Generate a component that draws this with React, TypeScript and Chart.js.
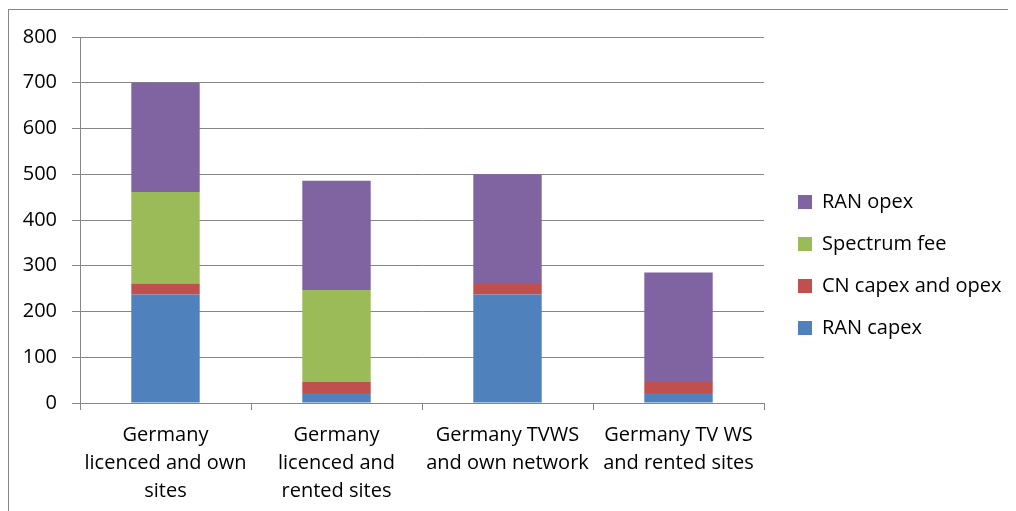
import React, { useEffect, useRef } from "react";
import { Chart, registerables } from "chart.js";

Chart.register(...registerables);

const categories: string[][] = [
  ["Germany", "licenced and own", "sites"],
  ["Germany", "licenced and", "rented sites"],
  ["Germany TVWS", "and own network"],
  ["Germany TV WS", "and rented sites"],
];
const ranCapex = [237, 22, 237, 22];
const cnCapexOpex = [24, 24, 23, 24];
const spectrumFee = [200, 201, 0, 0];
const ranOpex = [239, 239, 240, 239];
const yMin = 0;
const yMax = 800;
const yStep = 100;

const GRID = "#868686";
const FONT = "'Open Sans'";
const FS = 20;

export default function App() {
  const ref = useRef<HTMLCanvasElement | null>(null);

  useEffect(() => {
    if (!ref.current) return;
    const W = 1100;
    const chartRight = 755;
    const legendLeft = 767;

    const fixLegend = {
      id: "fixLegend",
      beforeLayout(chart: any) {
        const lg = chart.legend;
        if (lg && !lg._patched) {
          const orig = lg.fit.bind(lg);
          lg.fit = function () {
            orig();
            this.width = W - chartRight;
          };
          lg._patched = true;
        }
      },
      afterLayout(chart: any) {
        const lg = chart.legend;
        if (lg) {
          const w = lg.width;
          lg.left = legendLeft;
          lg.right = legendLeft + w;
          lg.top = 25;
          lg.bottom = 485;
          lg.height = 460;
        }
      },
    };

    const chart = new Chart(ref.current, {
      type: "bar",
      data: {
        labels: categories,
        datasets: [
          { label: "RAN capex", data: ranCapex, backgroundColor: "#4F81BD", borderWidth: 0 },
          { label: "CN capex and opex", data: cnCapexOpex, backgroundColor: "#C0504D", borderWidth: 0 },
          { label: "Spectrum fee", data: spectrumFee, backgroundColor: "#9BBB59", borderWidth: 0 },
          { label: "RAN opex", data: ranOpex, backgroundColor: "#8064A2", borderWidth: 0 },
        ],
      },
      options: {
        responsive: false,
        animation: false,
        devicePixelRatio: 1,
        layout: { padding: { top: 25, bottom: 0, left: 0, right: 0 } },
        datasets: { bar: { barPercentage: 0.4, categoryPercentage: 1 } },
        plugins: {
          tooltip: { enabled: false },
          title: { display: false },
          legend: {
            position: "right",
            reverse: true,
            labels: {
              boxWidth: 14,
              boxHeight: 14,
              padding: 22,
              color: "#000",
              font: { family: FONT, size: FS },
            },
          },
        },
        scales: {
          x: {
            stacked: true,
            afterFit: (s: any) => {
              s.height = 117;
            },
            grid: {
              display: true,
              drawOnChartArea: false,
              drawTicks: true,
              tickLength: 7,
              color: GRID,
              offset: true,
            },
            border: { display: true, color: GRID, width: 1 },
            ticks: {
              color: "#000",
              padding: 11,
              maxRotation: 0,
              autoSkip: false,
              font: { family: FONT, size: FS, lineHeight: 28 / FS },
            },
          },
          y: {
            stacked: true,
            min: yMin,
            max: yMax,
            afterFit: (s: any) => {
              s.width = 71;
            },
            grid: {
              color: GRID,
              lineWidth: 1,
              drawTicks: true,
              tickLength: 8,
            },
            border: { display: true, color: GRID, width: 1 },
            ticks: {
              stepSize: yStep,
              color: "#000",
              padding: 15,
              font: { family: FONT, size: FS },
            },
          },
        },
      },
      plugins: [fixLegend],
    });
    return () => chart.destroy();
  }, []);

  return (
    <div
      style={{
        position: "relative",
        width: 1008,
        height: 503,
        overflow: "hidden",
        background: "#fff",
      }}
    >
      <div
        style={{
          position: "absolute",
          left: 0,
          top: 1,
          width: 1110,
          height: 600,
          border: `1px solid ${GRID}`,
          boxSizing: "border-box",
        }}
      >
        <canvas
          ref={ref}
          width={1100}
          height={510}
          style={{ display: "block", width: 1100, height: 510 }}
        />
      </div>
    </div>
  );
}
